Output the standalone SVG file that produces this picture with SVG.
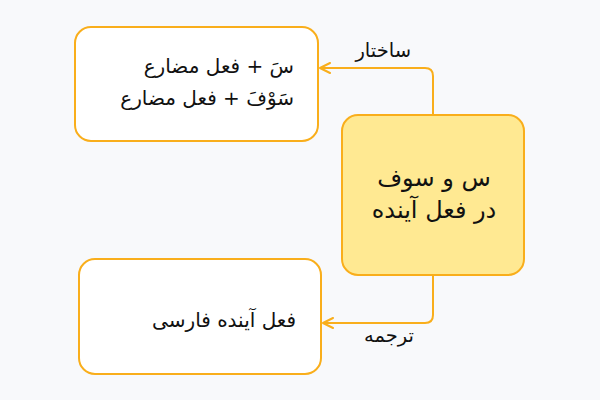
<svg xmlns="http://www.w3.org/2000/svg" width="600" height="400" viewBox="0 0 600 400">
<defs>
<style>
.box{fill:#ffffff;stroke:#F9AE1B;stroke-width:2}
.main{fill:#FFE992;stroke:#F9AE1B;stroke-width:2}
.edge{fill:none;stroke:#F9AE1B;stroke-width:2}
.t{font-family:"DejaVu Sans","Noto Sans",sans-serif;font-size:20px;fill:#111111;direction:rtl}
.c{font-size:24px}
.l{font-size:19.5px}
</style>
<marker id="arr" viewBox="0 0 12 12" refX="11" refY="6" markerWidth="12" markerHeight="12" markerUnits="userSpaceOnUse" orient="auto">
<path d="M1,1 L11,6 L1,11" fill="none" stroke="#F9AE1B" stroke-width="2" stroke-linecap="round" stroke-linejoin="round"/>
</marker>
</defs>
<rect width="600" height="400" fill="#F8F9FB"/>
<g id="connectors">
<path class="edge" d="M433,115 V76 Q433,68 425,68 H320" marker-end="url(#arr)"/>
<path class="edge" d="M433,276 V315 Q433,323 425,323 H323" marker-end="url(#arr)"/>
<text class="t l" x="411" y="57" text-anchor="start" direction="rtl">ساختار</text>
<text class="t l" x="414" y="342" text-anchor="start" direction="rtl">ترجمه</text>
</g>
<g id="node-structure">
<rect class="box" x="75" y="27" width="243" height="114" rx="16"/>
<text class="t" x="294" y="73" text-anchor="start" direction="rtl">سَ + فعل مضارع</text>
<text class="t" x="294" y="105" text-anchor="start" direction="rtl">سَوْفَ + فعل مضارع</text>
</g>
<g id="node-main">
<rect class="main" x="342" y="115" width="182" height="160" rx="16"/>
<text class="t c" x="434" y="186" text-anchor="middle" direction="rtl">س و سوف</text>
<text class="t c" x="434" y="218" text-anchor="middle" direction="rtl">در فعل آینده</text>
</g>
<g id="node-translation">
<rect class="box" x="79" y="259" width="242" height="115" rx="16"/>
<text class="t" x="296" y="327" text-anchor="start" direction="rtl">فعل آینده فارسی</text>
</g>
</svg>
